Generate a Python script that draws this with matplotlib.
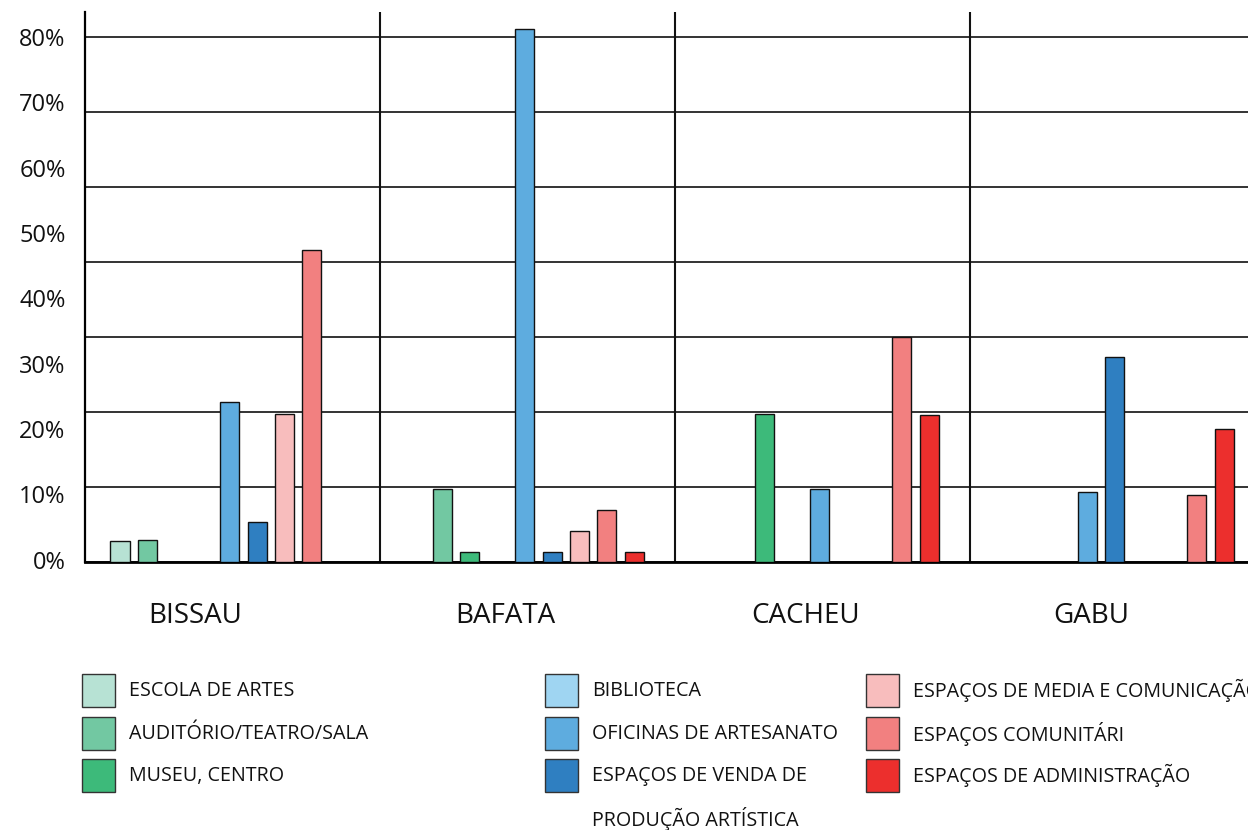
import numpy as np
import matplotlib
matplotlib.use('Agg')
import matplotlib.pyplot as plt
from matplotlib.patches import Rectangle

plt.rcParams['font.family'] = ['Open Sans', 'DejaVu Sans']

cities = ['BISSAU', 'BAFATA', 'CACHEU', 'GABU']
categories = ['ESCOLA DE ARTES', 'AUDITÓRIO/TEATRO/SALA', 'MUSEU, CENTRO',
              'BIBLIOTECA', 'OFICINAS DE ARTESANATO', 'ESPAÇOS DE VENDA DE\nPRODUÇÃO ARTÍSTICA',
              'ESPAÇOS DE MEDIA E COMUNICAÇÃO', 'ESPAÇOS COMUNITÁRI', 'ESPAÇOS DE ADMINISTRAÇÃO']
colors = ['#b7e2d4', '#72c8a2', '#3dba7a', '#9fd5f2', '#5eacdf', '#2f7fc1',
          '#f8bdbd', '#f28080', '#ec2f2d']

# % per city, one value per category (0 = no bar)
bissau = [2.8, 3.0, 0, 0, 21.4, 5.3, 19.8, 41.6, 0]
bafata = [0, 9.8, 1.4, 0, 71.1, 1.4, 4.1, 7.0, 1.4]
cacheu = [0, 0, 19.8, 0, 9.8, 0, 0, 30.0, 19.6]
gabu = [0, 0, 0, 0, 9.3, 27.3, 0, 8.9, 17.7]
values = [bissau, bafata, cacheu, gabu]

ytick_vals = [0, 10, 20, 30, 40, 50, 60, 70, 80]

W, H = 1248, 830
fig = plt.figure(figsize=(W / 100, H / 100), dpi=100)
ax = fig.add_axes([85 / W, 268 / H, (W - 85) / W, 550 / H])

grp = 295.0  # px per city group
step = 27.4 / grp
bw = 19 / grp
first = 35 / grp

for i, vals in enumerate(values):
    slots = list(range(9))
    if cities[i] == 'GABU':
        # the two blue bars sit one slot further left here
        slots[4], slots[5] = 3, 4
    for k, v in enumerate(vals):
        if v <= 0:
            continue
        ax.bar(i + first + slots[k] * step, v, width=bw, color=colors[k],
               edgecolor='#111111', linewidth=1.0, zorder=3)

ax.set_xlim(0, (W - 85) / grp)
ax.set_ylim(0, 550 / 7.5)

ax.set_yticks(np.arange(0, 80, 10))
ax.yaxis.grid(True, color='#333333', linewidth=1.4, zorder=0)
ax.tick_params(axis='y', length=0, labelleft=False)
for x in range(1, 4):
    ax.axvline(x, color='#111111', linewidth=1.5, zorder=2)

for s in ['top', 'right']:
    ax.spines[s].set_visible(False)
ax.spines['left'].set_linewidth(1.6)
ax.spines['bottom'].set_linewidth(2.0)

# city labels under each group
label_x = [(195 - 85) / grp, (505 - 85) / grp, (806 - 85) / grp, (1091 - 85) / grp]
ax.set_xticks(label_x, cities)
ax.tick_params(axis='x', length=0, pad=29, labelsize=20, colors='#111111')

# percentage labels on their own scale
sec = ax.secondary_yaxis('left', functions=(lambda d: (d - 0.3) / 0.871,
                                            lambda v: 0.3 + 0.871 * v))
sec.set_yticks(ytick_vals, [f'{v}%' for v in ytick_vals])
sec.tick_params(length=0, pad=14, labelsize=17, colors='#111111')
sec.spines['left'].set_visible(False)

# legend, three columns
def fx(x):
    return x / W

def fy(y):
    return 1 - y / H

col_x = [82, 545, 866]
row_y = [674, 717, 759]
for k, name in enumerate(categories):
    c, r = k // 3, k % 3
    fig.add_artist(Rectangle((fx(col_x[c]), fy(row_y[r] + 33)), 33 / W, 33 / H,
                             transform=fig.transFigure, facecolor=colors[k],
                             edgecolor='#333333', linewidth=1.0))
    lines = name.split('\n')
    fig.text(fx(col_x[c] + 47), fy(row_y[r] + 16.5), lines[0], ha='left', va='center',
             fontsize=14.2, color='#111111')
    if len(lines) > 1:
        fig.text(fx(col_x[c] + 47), fy(819), lines[1], ha='left', va='center',
                 fontsize=14.2, color='#111111')

fig.savefig('out.png', dpi=100)
